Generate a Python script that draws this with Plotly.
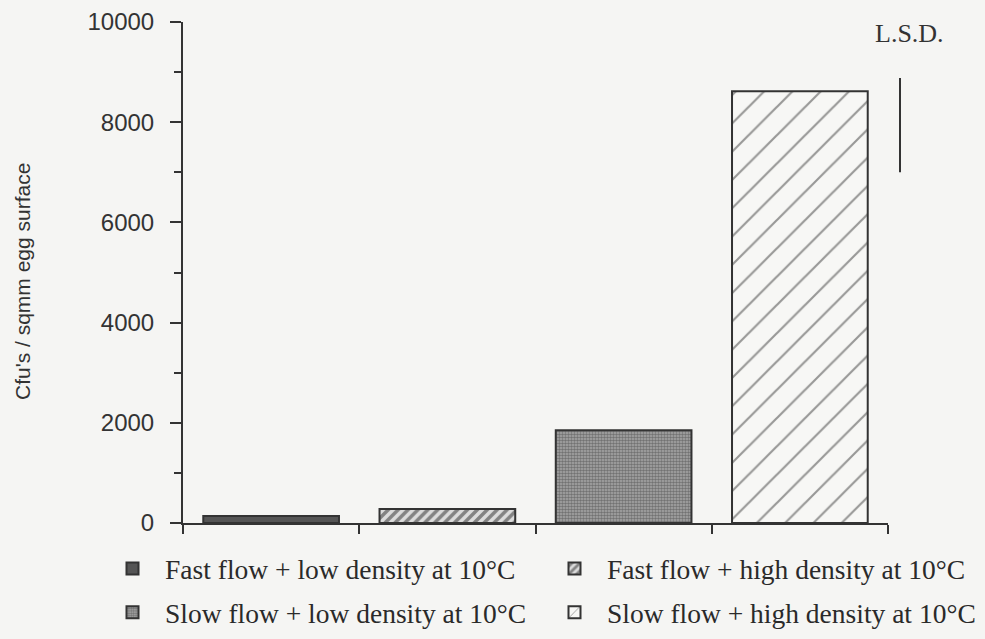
import plotly.graph_objects as go

categories = ["Fast flow + low density at 10°C", "Fast flow + high density at 10°C",
              "Slow flow + low density at 10°C", "Slow flow + high density at 10°C"]
values = [140, 280, 1850, 8620]
lsd_bottom = 7000
lsd_top = 8880
y_ticks = [0, 2000, 4000, 6000, 8000, 10000]
y_tick_labels = ["0", "2000", "4000", "6000", "8000", "10000"]

styles = [
    dict(color="#555555", pattern=dict(shape="")),
    dict(color="#ffffff", pattern=dict(shape="/", size=7, solidity=0.5, fgcolor="#2a2a2a", bgcolor="#dcdcdc")),
    dict(color="#999999", pattern=dict(shape=".", size=3, solidity=0.55, fgcolor="#3c3c3c", bgcolor="#a8a8a8")),
    dict(color="#ffffff", pattern=dict(shape="/", size=20, solidity=0.11, fgcolor="#3a3a3a", bgcolor="#f7f7f5")),
]
legend_ids = ["legend", "legend2", "legend", "legend2"]

fig = go.Figure()
for i, (cat, val) in enumerate(zip(categories, values)):
    st = styles[i]
    fig.add_trace(go.Bar(
        x=[cat], y=[val], name=cat, width=0.77,
        marker=dict(color=st["color"], pattern=st["pattern"],
                    line=dict(color="#333333", width=2)),
        legend=legend_ids[i], legendgroup=cat,
    ))

fig.add_shape(type="line", xref="paper", yref="y",
              x0=(900 - 183) / 705, x1=(900 - 183) / 705,
              y0=lsd_bottom, y1=lsd_top, line=dict(color="#333333", width=2))
fig.add_annotation(text="L.S.D.", xref="paper", yref="paper",
                   x=(909 - 183) / 705, y=(523 - 33) / 501, showarrow=False,
                   xanchor="center", yanchor="middle",
                   font=dict(family="Liberation Serif", size=26, color="#333333"))
fig.add_annotation(text="Cfu's / sqmm egg surface", xref="paper", yref="paper",
                   x=(22 - 183) / 705, y=(523 - 282) / 501, textangle=-90, showarrow=False,
                   xanchor="center", yanchor="middle",
                   font=dict(family="Liberation Sans", size=21, color="#333333"))

legend_common = dict(orientation="v", xanchor="left", yanchor="top",
                     font=dict(family="Liberation Serif", size=27.5, color="#2a2a2a"),
                     bgcolor="rgba(0,0,0,0)", tracegroupgap=5, itemwidth=55)
fig.update_layout(
    width=985, height=639,
    margin=dict(l=183, r=97, t=22, b=116, autoexpand=False),
    paper_bgcolor="#f5f5f3", plot_bgcolor="#f5f5f3",
    barmode="overlay",
    showlegend=True,
    legend=dict(x=(100 - 183) / 705, y=(523 - 544) / 501, **legend_common),
    legend2=dict(x=(542 - 183) / 705, y=(523 - 544) / 501, **legend_common),
    xaxis=dict(type="category", range=[-0.5, 3.5], showticklabels=False,
               tickson="boundaries", ticks="outside", ticklen=9, tickwidth=2,
               tickcolor="#333333", showline=True, linecolor="#333333", linewidth=2,
               showgrid=False, zeroline=False),
    yaxis=dict(range=[0, 10000], tickvals=y_ticks, ticktext=y_tick_labels,
               ticks="outside", ticklen=11, ticklabelstandoff=11,
               tickwidth=2, tickcolor="#333333", showline=True, linecolor="#333333",
               linewidth=2, showgrid=False, zeroline=False,
               minor=dict(dtick=1000, ticks="outside", ticklen=7, tickwidth=2, tickcolor="#333333"),
               tickfont=dict(family="Liberation Sans", size=24, color="#333333")),
)

fig.write_html("out.html", config={"displayModeBar": False},
               post_script="document.body.style.margin='0';document.body.style.padding='0';")
